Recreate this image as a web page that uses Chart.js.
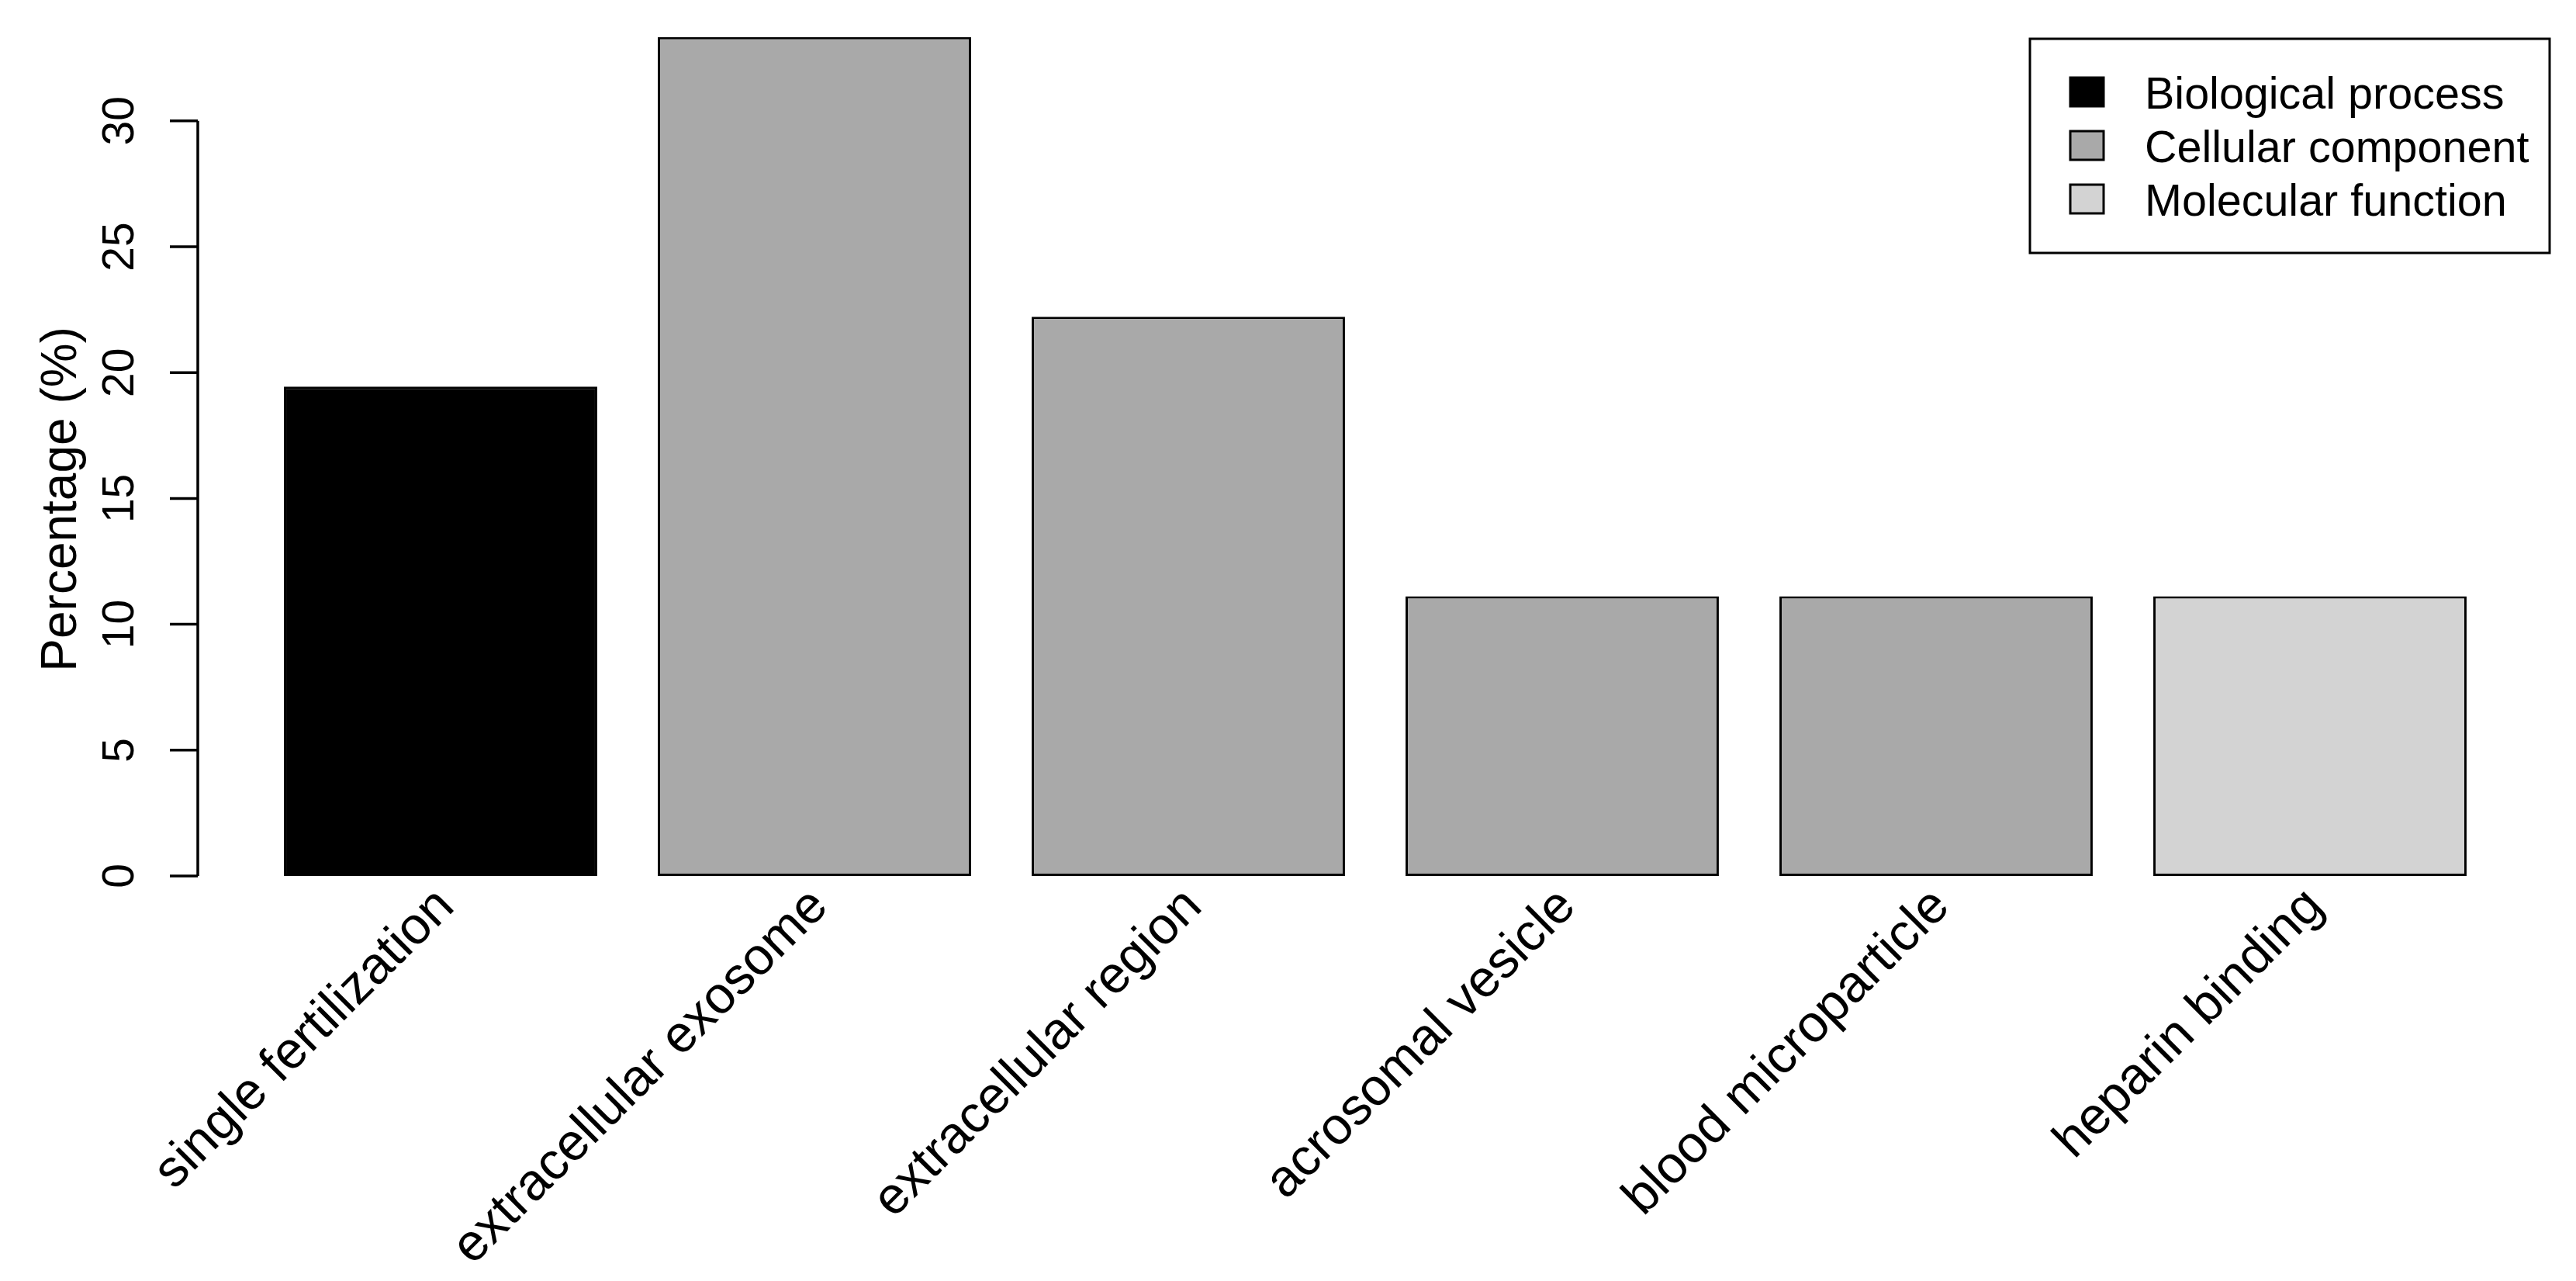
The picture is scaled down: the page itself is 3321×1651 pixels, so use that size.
<!DOCTYPE html>
<html>
<head>
<meta charset="utf-8">
<title>GO term percentages</title>
<script src="https://cdn.jsdelivr.net/npm/chart.js@4.4.1/dist/chart.umd.min.js"></script>
<style>
  html, body { margin: 0; padding: 0; background: #fff; overflow: hidden; }
  canvas { display: block; }
</style>
</head>
<body>
<canvas id="chart" width="3321" height="1651"></canvas>
<script>
/* ── data ─────────────────────────────────────────────── */
const CATEGORIES = [
  'single fertilization',
  'extracellular exosome',
  'extracellular region',
  'acrosomal vesicle',
  'blood microparticle',
  'heparin binding',
];
const PERCENTAGES = [19.44, 33.33, 22.22, 11.11, 11.11, 11.11];
const ONTOLOGY = [
  'Biological process',
  'Cellular component',
  'Cellular component',
  'Cellular component',
  'Cellular component',
  'Molecular function',
];
const LEGEND_LABELS = ['Biological process', 'Cellular component', 'Molecular function'];
const LEGEND_COLORS = ['#000000', '#A9A9A9', '#D3D3D3'];
const Y_TICKS = [0, 5, 10, 15, 20, 25, 30];
const Y_TITLE = 'Percentage (%)';

/* ── look ─────────────────────────────────────────────── */
const FONT = '"Liberation Sans", Arial, Helvetica, sans-serif';
const colorFor = name => LEGEND_COLORS[LEGEND_LABELS.indexOf(name)];

// R-style axes, rotated names and boxed legend, drawn from the chart's own scales
const baseAxes = {
  id: 'baseAxes',
  afterDraw(chart) {
    const ctx = chart.ctx;
    const x = chart.scales.x;
    const y = chart.scales.y;
    const axisX = 255;

    ctx.save();
    ctx.strokeStyle = '#000';
    ctx.fillStyle = '#000';
    ctx.lineWidth = 3.5;
    ctx.lineCap = 'butt';

    // y axis line + ticks
    const yTop = y.getPixelForValue(Y_TICKS[Y_TICKS.length - 1]);
    const yBot = y.getPixelForValue(Y_TICKS[0]);
    ctx.beginPath();
    ctx.moveTo(axisX, yTop);
    ctx.lineTo(axisX, yBot);
    ctx.stroke();

    ctx.font = `57px ${FONT}`;
    ctx.textAlign = 'center';
    ctx.textBaseline = 'alphabetic';
    Y_TICKS.forEach(t => {
      const py = y.getPixelForValue(t);
      ctx.beginPath();
      ctx.moveTo(axisX - 36, py);
      ctx.lineTo(axisX, py);
      ctx.stroke();
      ctx.save();
      ctx.translate(172, py);
      ctx.rotate(-Math.PI / 2);
      ctx.fillText(String(t), 0, 0);
      ctx.restore();
    });

    // y title
    ctx.save();
    ctx.font = `64px ${FONT}`;
    ctx.translate(98, (yTop + yBot) / 2 + 1);
    ctx.rotate(-Math.PI / 2);
    ctx.fillText(Y_TITLE, 0, 0);
    ctx.restore();

    // category names, 45 degrees, right-aligned under each bar
    ctx.font = `67px ${FONT}`;
    ctx.textAlign = 'right';
    CATEGORIES.forEach((name, i) => {
      const px = x.getPixelForValue(i);
      ctx.save();
      ctx.translate(px + 20, yBot + 42);
      ctx.rotate(-Math.PI / 4);
      ctx.fillText(name, 0, 0);
      ctx.restore();
    });

    // legend box (top right)
    ctx.lineWidth = 3;
    ctx.strokeRect(2617, 50, 670, 276);
    ctx.font = `57.5px ${FONT}`;
    ctx.textAlign = 'left';
    LEGEND_LABELS.forEach((lab, i) => {
      const top = 100 + i * 69;
      ctx.fillStyle = LEGEND_COLORS[i];
      ctx.fillRect(2669, top, 43, 37);
      ctx.lineWidth = 3;
      ctx.strokeRect(2669, top, 43, 37);
      ctx.fillStyle = '#000';
      ctx.fillText(lab, 2765, top + 40);
    });

    ctx.restore();
  },
};

new Chart(document.getElementById('chart'), {
  type: 'bar',
  data: {
    labels: CATEGORIES,
    datasets: [{
      label: 'Percentage',
      data: PERCENTAGES,
      backgroundColor: ONTOLOGY.map(colorFor),
      borderColor: '#000',
      borderWidth: 3,
      borderSkipped: false,
      barPercentage: 0.838,
      categoryPercentage: 1,
    }],
  },
  options: {
    responsive: false,
    animation: false,
    devicePixelRatio: 1,
    layout: { padding: { left: 327, right: 102, top: 26, bottom: 522 } },
    scales: {
      x: { display: false },
      y: { display: false, min: 0, max: 34 },
    },
    plugins: {
      legend: { display: false },
      tooltip: { enabled: false },
    },
  },
  plugins: [baseAxes],
});
</script>
</body>
</html>
